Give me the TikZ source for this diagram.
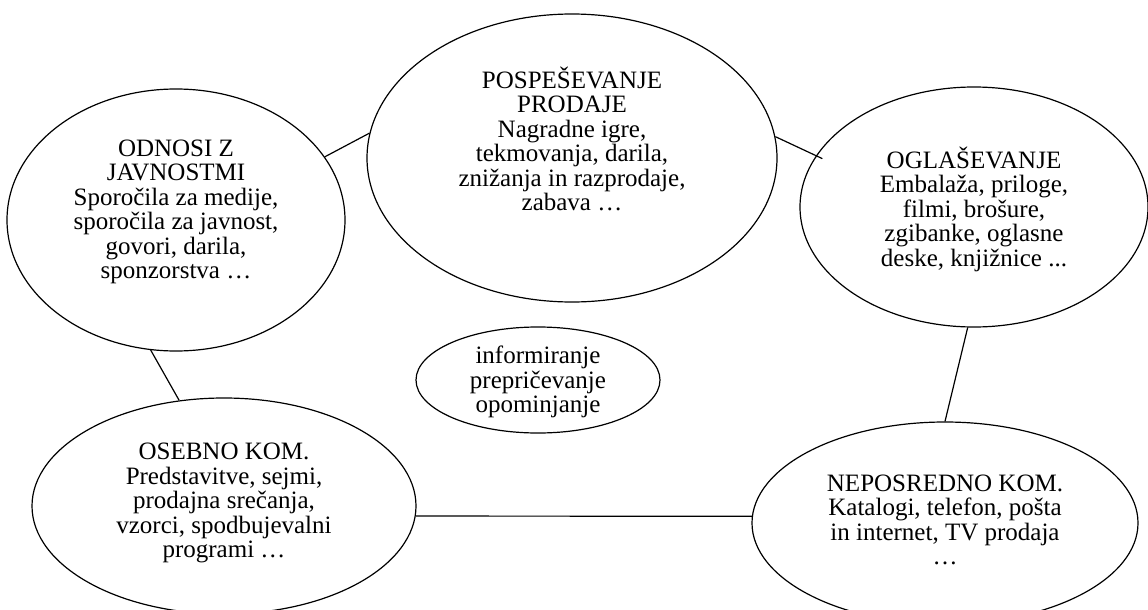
\documentclass[tikz,border=0pt]{standalone}
\usepackage{fontspec}
\setmainfont{Liberation Serif}
\usepackage{tikz}
\usetikzlibrary{shapes.geometric}
\tikzstyle{element} = [shape=ellipse, draw=black, line width=1.2pt, inner sep=0pt]
\tikzstyle{caption} = [align=center, inner sep=0pt, font=\fontsize{25}{24.5}\selectfont]
\tikzstyle{link} = [line width=1.2pt]

\begin{document}
\begin{tikzpicture}[x=1pt, y=-1pt]
  \useasboundingbox (0,0) rectangle (1148,610);

  \node[element, minimum width=410pt, minimum height=288pt] (pospesevanje) at (572,158) {};
  \node[caption] (pospesevanje-t) at (572,139) {POSPEŠEVANJE\\ PRODAJE\\ Nagradne igre,\\ tekmovanja, darila,\\ znižanja in razprodaje,\\ zabava …};

  \node[element, minimum width=338pt, minimum height=262pt] (odnosi) at (176,220) {};
  \node[caption] (odnosi-t) at (176,212) {ODNOSI Z\\ JAVNOSTMI\\ Sporočila za medije,\\ sporočila za javnost,\\ govori, darila,\\ sponzorstva …};

  \node[element, minimum width=348pt, minimum height=240pt] (oglasevanje) at (974,207) {};
  \node[caption] (oglasevanje-t) at (974,209) {OGLAŠEVANJE\\ Embalaža, priloge,\\ filmi, brošure,\\ zgibanke, oglasne\\ deske, knjižnice ...};

  \node[element, minimum width=384pt, minimum height=216pt] (osebno) at (224,506) {};
  \node[caption] (osebno-t) at (224,503) {OSEBNO KOM.\\ Predstavitve, sejmi,\\ prodajna srečanja,\\ vzorci, spodbujevalni\\ programi …};

  \node[element, minimum width=386pt, minimum height=202pt] (neposredno) at (945,523) {};
  \node[caption] (neposredno-t) at (945,520) {NEPOSREDNO KOM.\\ Katalogi, telefon, pošta\\ in internet, TV prodaja\\ …};

  \node[element, minimum width=244pt, minimum height=106pt] (namen) at (538,380) {};
  \node[caption] (namen-t) at (538,382) {informiranje\\ prepričevanje\\ opominjanje};

  % povezave
  \draw[link] (odnosi.23) -- (pospesevanje.173);
  \draw[link, shorten >=-7pt] (pospesevanje.6) -- (oglasevanje.162);
  \draw[link] (oglasevanje.267) -- (neposredno.90);
  \draw[link] (odnosi.259) -- (osebno.113);
  \draw[link] (osebno.-3) -- (neposredno.178);
\end{tikzpicture}
\end{document}
